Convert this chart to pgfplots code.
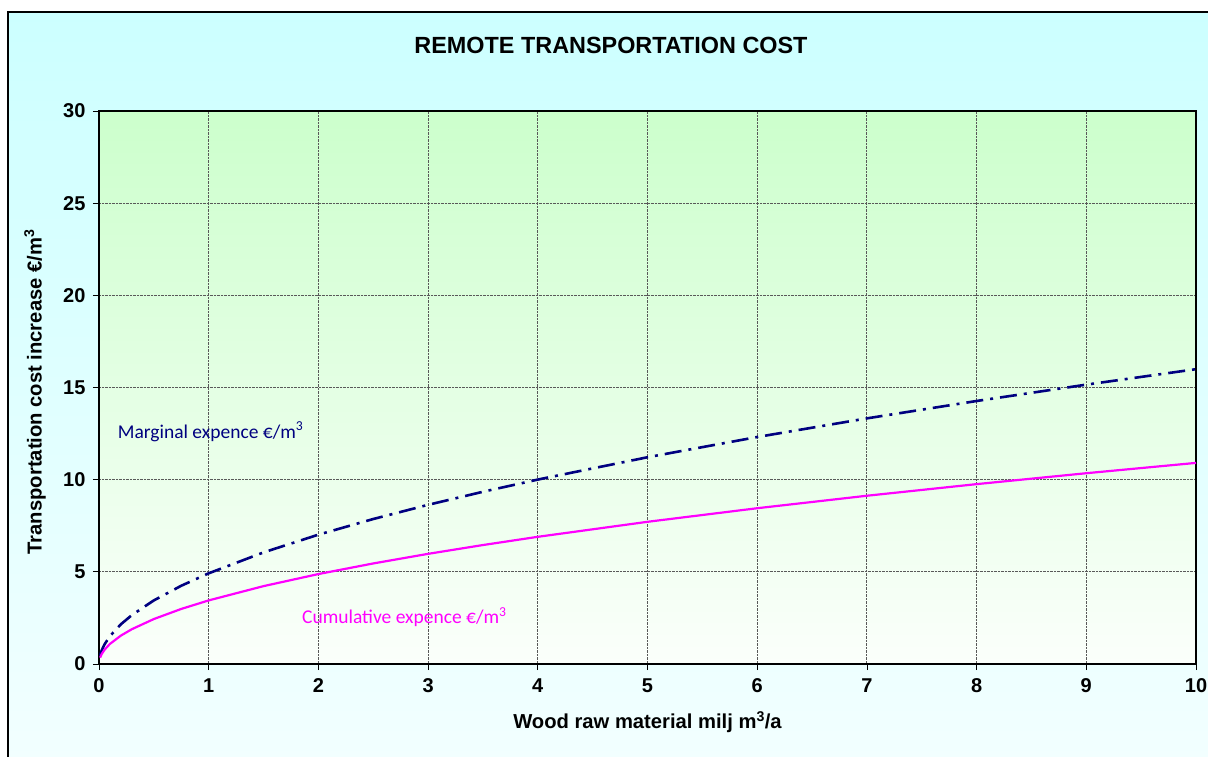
\documentclass[border=0pt]{standalone}
\usepackage{fontspec}
\setmainfont{Liberation Sans}
\newfontfamily\calibri{Carlito}
\usepackage{pgfplots}
\pgfplotsset{compat=1.18}
\definecolor{bgcyan}{HTML}{CCFFFF}
\definecolor{bgcyanlow}{HTML}{F2FFFF}
\definecolor{plottop}{HTML}{CCFFCC}
\definecolor{plotbot}{HTML}{FBFFFB}
\definecolor{navyline}{HTML}{000080}
\definecolor{magline}{HTML}{FF00FF}
\begin{document}
\begin{tikzpicture}[x=1pt,y=1pt]
\useasboundingbox (0,0) rectangle (1208,756);
\clip (0,0) rectangle (1208,756);
\fill[white] (0,0) rectangle (1208,756);
\shade[top color=bgcyan, bottom color=bgcyanlow] (8,-4) rectangle (1214,744);
\draw[black, line width=1.5pt] (8,-4) rectangle (1214,744);
\node[font=\bfseries\fontsize{23.4}{28}\selectfont] at (611,711) {REMOTE TRANSPORTATION COST};
\begin{axis}[
  at={(99pt,92pt)}, anchor=south west,
  scale only axis, width=1097pt, height=553pt,
  xmin=0, xmax=10, ymin=0, ymax=30,
  xtick={0,1,...,10}, ytick={0,5,...,30},
  axis line style={black, line width=2pt},
  tick align=outside, xtick pos=left, ytick pos=left,
  major tick length=6pt,
  tick style={black, line width=0.8pt},
  grid=major,
  major grid style={densely dotted, gray!70!black, line width=0.9pt},
  /pgf/number format/assume math mode=true,
  ticklabel style={font=\bfseries\fontsize{20}{22}\selectfont},
  xticklabel style={yshift=-5pt},
  yticklabel style={xshift=-4pt},
  axis background/.style={shade, top color=plottop, bottom color=plotbot},
  xlabel={Wood raw material milj m\textsuperscript{3}/a},
  ylabel={Transportation cost increase €/m\textsuperscript{3}},
  label style={font=\bfseries\fontsize{20.2}{24}\selectfont},
  xlabel style={at={(axis description cs:0.5,-0.105)}, anchor=center},
  ylabel style={at={(axis description cs:-0.0583,0.492)}, anchor=center},
  clip=false,
]
\addplot[navyline, line width=2.6pt, dash pattern=on 17pt off 7pt on 3pt off 7pt] coordinates {
(0.01,0.465) (0.025,0.744) (0.05,1.061) (0.1,1.513) (0.2,2.158) (0.3,2.656)
(0.5,3.450) (0.75,4.246) (1,4.92) (1.5,6.055) (2,7.016) (2.5,7.865) (3,8.635)
(3.5,9.344) (4,10.005) (5,11.216) (6,12.313) (7,13.325) (8,14.268) (9,15.155) (10,15.994)
};
\addplot[magline, line width=2.2pt] coordinates {
(0.01,0.345) (0.025,0.545) (0.05,0.771) (0.1,1.091) (0.2,1.543) (0.3,1.890)
(0.5,2.439) (0.75,2.988) (1,3.45) (1.5,4.225) (2,4.879) (2.5,5.455) (3,5.976)
(3.5,6.454) (4,6.90) (5,7.714) (6,8.451) (7,9.128) (8,9.758) (9,10.35) (10,10.91)
};
\node[anchor=west, text=navyline, font=\calibri\fontsize{19.5}{22}\selectfont, inner sep=0pt] at (axis cs:0.17,12.59) {Marginal expence €/m\textsuperscript{3}};
\node[anchor=west, text=magline, font=\calibri\fontsize{19.5}{22}\selectfont, inner sep=0pt] at (axis cs:1.85,2.55) {Cumulative expence €/m\textsuperscript{3}};
\end{axis}
\end{tikzpicture}
\end{document}
